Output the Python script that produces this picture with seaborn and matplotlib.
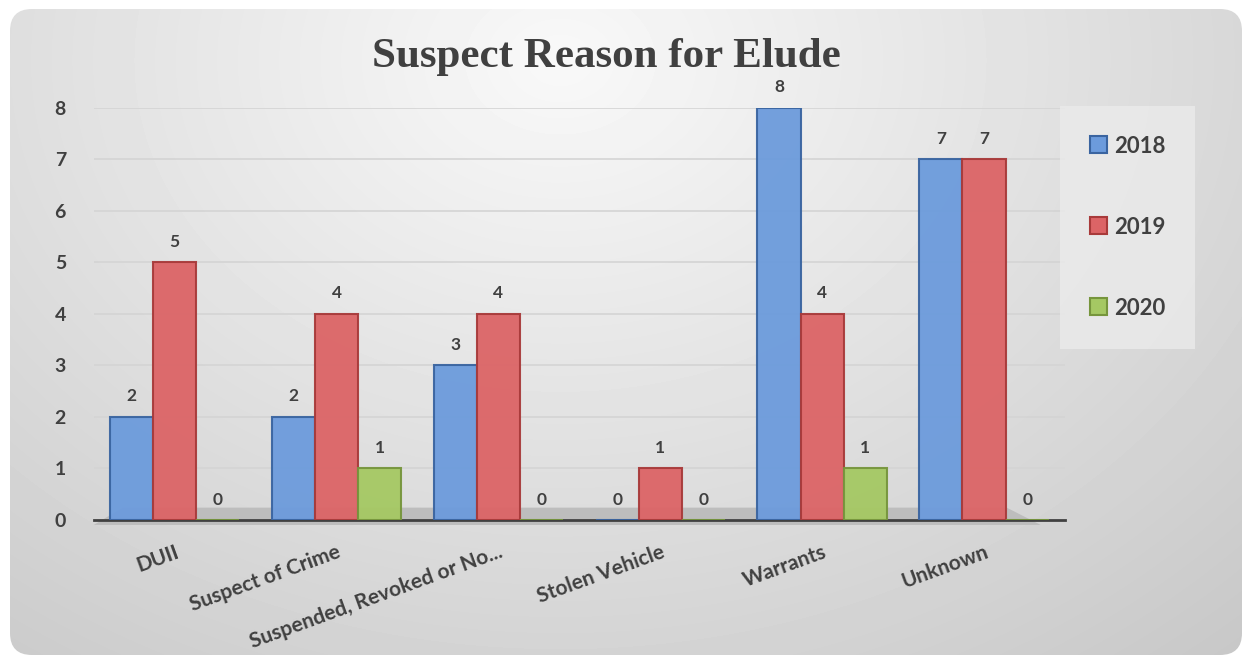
import numpy as np
import pandas as pd
import matplotlib
matplotlib.use("Agg")
import matplotlib.pyplot as plt
import seaborn as sns
from matplotlib.patches import FancyBboxPatch, Polygon

# --- Data ---
categories = ["DUII", "Suspect of Crime", "Suspended, Revoked or No...",
              "Stolen Vehicle", "Warrants", "Unknown"]
years = ["2018", "2019", "2020"]
v2018 = [2, 2, 3, 0, 8, 7]
v2019 = [5, 4, 4, 1, 4, 7]
v2020 = [0, 1, 0, 0, 1, 0]

df = pd.DataFrame({
    "category": categories * 3,
    "year": [y for y in years for _ in categories],
    "count": v2018 + v2019 + v2020,
})

fill_colors = {"2018": "#6c9bdc", "2019": "#dc6466", "2020": "#a5c863"}
edge_colors = {"2018": "#3a64a0", "2019": "#a83a3a", "2020": "#76953c"}
text_color = "#404040"

sns.set_theme(style="white")
plt.rcParams["font.family"] = ["Lato", "DejaVu Sans"]

fig = plt.figure(figsize=(12.5, 6.62), dpi=100)
fig.patch.set_facecolor("white")

# background panel with a soft gradient and rounded corners
bg = fig.add_axes([0, 0, 1, 1], zorder=-10)
bg.set_xlim(0, 1250)
bg.set_ylim(662, 0)
bg.axis("off")
yy, xx = np.mgrid[0:662, 0:1250]
dist = np.sqrt(((xx - 560) / 900.0) ** 2 + ((yy - 60) / 700.0) ** 2)
shade = np.clip(0.975 - 0.17 * dist, 0.78, 0.975)
panel = FancyBboxPatch((10, 9), 1232, 646, boxstyle="round,pad=0,rounding_size=22",
                       facecolor="none", edgecolor="none", transform=bg.transData)
bg.add_patch(panel)
img = bg.imshow(shade, cmap="gray", vmin=0, vmax=1, extent=(0, 1250, 662, 0), aspect="auto")
img.set_clip_path(panel)

# main axes
ax = fig.add_axes([0.075, 0.2145, 0.777, 0.6225])
ax.patch.set_alpha(0)

# 3D-ish floor
floor = Polygon([(0.0, -0.012), (0.975, -0.012), (0.94, 0.03), (0.03, 0.03)],
                closed=True, transform=ax.transAxes, facecolor="#bdbdbd",
                edgecolor="none", zorder=0.5, clip_on=False)
ax.add_patch(floor)

sns.barplot(data=df, x="category", y="count", hue="year", hue_order=years,
            palette=fill_colors, saturation=1, width=0.8, ax=ax, zorder=3)

for cont, yr in zip(ax.containers, years):
    for bar in cont:
        bar.set_edgecolor(edge_colors[yr])
        bar.set_linewidth(1.5)
        bar.set_alpha(0.95)
    ax.bar_label(cont, fmt="%d", padding=9, fontsize=12.5, fontweight="bold",
                 color=text_color)

ax.set_ylim(0, 8)
ax.set_xlim(-0.5, len(categories) - 0.5)
ax.set_yticks(range(0, 9))
ax.set_yticklabels([str(i) for i in range(0, 9)], fontsize=14, fontweight="bold",
                   color=text_color)
ax.tick_params(axis="y", length=0, pad=20)
ax.yaxis.grid(True, color="#d4d4d4", linewidth=1.2)
ax.set_axisbelow(True)

# ticks between categories, labels at centres
ax.set_xticks(np.arange(-0.5, len(categories), 1))
ax.set_xticklabels([""] * (len(categories) + 1))
ax.tick_params(axis="x", which="major", direction="out", length=7, width=2,
               color=text_color)
ax.set_xticks(range(len(categories)), minor=True)
ax.set_xticklabels(categories, minor=True, rotation=20, ha="right", va="top",
                   rotation_mode="anchor", fontsize=15, fontweight="bold",
                   color=text_color)
ax.tick_params(axis="x", which="minor", length=0, pad=16)

for side in ["top", "right", "left"]:
    ax.spines[side].set_visible(False)
ax.spines["bottom"].set_color(text_color)
ax.spines["bottom"].set_linewidth(2)
ax.set_xlabel("")
ax.set_ylabel("")

leg = ax.legend(loc="center", bbox_to_anchor=(0.902, 0.657),
                bbox_transform=fig.transFigure, frameon=True, fontsize=16,
                labelspacing=2.7, handlelength=0.8, handleheight=0.8,
                handletextpad=0.3, borderpad=1.35, fancybox=False)
leg.get_frame().set_facecolor("#ebebeb")
leg.get_frame().set_edgecolor("none")
for t in leg.get_texts():
    t.set_fontweight("bold")
    t.set_color(text_color)
for h, yr in zip(leg.legend_handles, years):
    h.set_edgecolor(edge_colors[yr])
    h.set_linewidth(1.5)

fig.text(0.485, 0.914, "Suspect Reason for Elude", ha="center", va="center",
         fontsize=31, fontweight="bold", color=text_color,
         family=["Liberation Serif", "DejaVu Serif"])

fig.savefig("out.png", dpi=100)
